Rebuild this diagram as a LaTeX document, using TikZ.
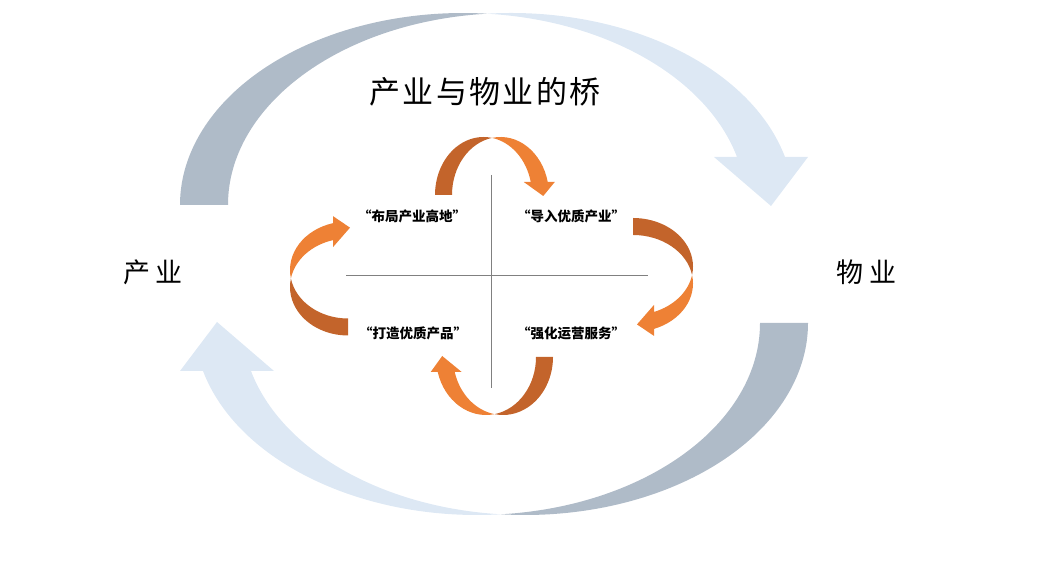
\documentclass[tikz,border=0pt]{standalone}
\usepackage{fontspec}
\newfontfamily\cjk{Noto Sans CJK SC}
\definecolor{bandback}{HTML}{AFBBC8}
\definecolor{bandfront}{HTML}{DDE8F4}
\definecolor{orback}{HTML}{C3642B}
\definecolor{orfront}{HTML}{EE8135}
% ribbon arrow: rx, ry, width, head base, head barb, tip y, tip shift, back colour, front colour
\newcommand{\ribbon}[9]{%
  \pgfmathsetmacro\rbta{acos(#3/(2*#1))}%
  \pgfmathsetmacro\rbtb{asin(#4/#2)}%
  \pgfmathsetmacro\rbcx{#1*cos(\rbtb)}%
  \pgfmathsetmacro\rbcy{#2*sin(\rbta)}%
  \fill[#8] (-#1,0) arc[start angle=180, end angle=\rbta, x radius=#1, y radius=#2]
    arc[start angle=180-\rbta, end angle=180, x radius=#1, y radius=#2] -- cycle;
  \fill[#9] (#3/2,\rbcy) arc[start angle=180-\rbta, end angle=\rbtb, x radius=#1, y radius=#2]
    -- ++(#5,0) -- (#3/2+\rbcx+#7,#6) -- (\rbcx-#5,#4) -- (\rbcx,#4)
    arc[start angle=\rbtb, end angle=\rbta, x radius=#1, y radius=#2] -- cycle;}
\begin{document}
\begin{tikzpicture}[x=1pt, y=1pt, line join=round, font=\cjk,
  lab/.style={font=\cjk\bfseries\fontsize{13.5}{16}\selectfont},
  side/.style={font=\cjk\fontsize{27}{32}\selectfont}]
\useasboundingbox (0,0) rectangle (1049,561);
% outer band
\begin{scope}[shift={(463,356)}]\ribbon{283}{192}{48}{48}{23}{-1}{10}{bandback}{bandfront}\end{scope}
\begin{scope}[shift={(525,238)},rotate=180]\ribbon{283}{192}{48}{48}{23}{-1}{10}{bandback}{bandfront}\end{scope}
% inner cycle
\begin{scope}[shift={(483.5,366)}]\ribbon{48.5}{58}{17}{13}{7}{-1}{4}{orback}{orfront}\end{scope}
\begin{scope}[shift={(633,294.5)},rotate=-90]\ribbon{48.5}{60}{17}{21}{7}{4}{4}{orback}{orfront}\end{scope}
\begin{scope}[shift={(503,204)},rotate=180]\ribbon{50}{58}{17}{15}{7}{-1}{4}{orback}{orfront}\end{scope}
\begin{scope}[shift={(348,274)},rotate=90]\ribbon{48.5}{58}{17}{15}{7}{-2}{4}{orback}{orfront}\end{scope}
\draw[gray, line width=0.8pt] (491,386) -- (491,173) (346,286) -- (648,286);
\node (title) at (485,469) {\fontsize{31}{36}\selectfont\addfontfeature{LetterSpace=8}产业与物业的桥};
\node[side] (ind) at (153,289) {产\hspace{6pt}业};
\node[side] (prop) at (866,289) {物\hspace{6pt}业};
\node[lab] (gd) at (412,345) {“布局产业高地”};
\node[lab] (dr) at (571,345) {“导入优质产业”};
\node[lab] (dz) at (413,228) {“打造优质产品”};
\node[lab] (qh) at (571,228) {“强化运营服务”};
\end{tikzpicture}
\end{document}
